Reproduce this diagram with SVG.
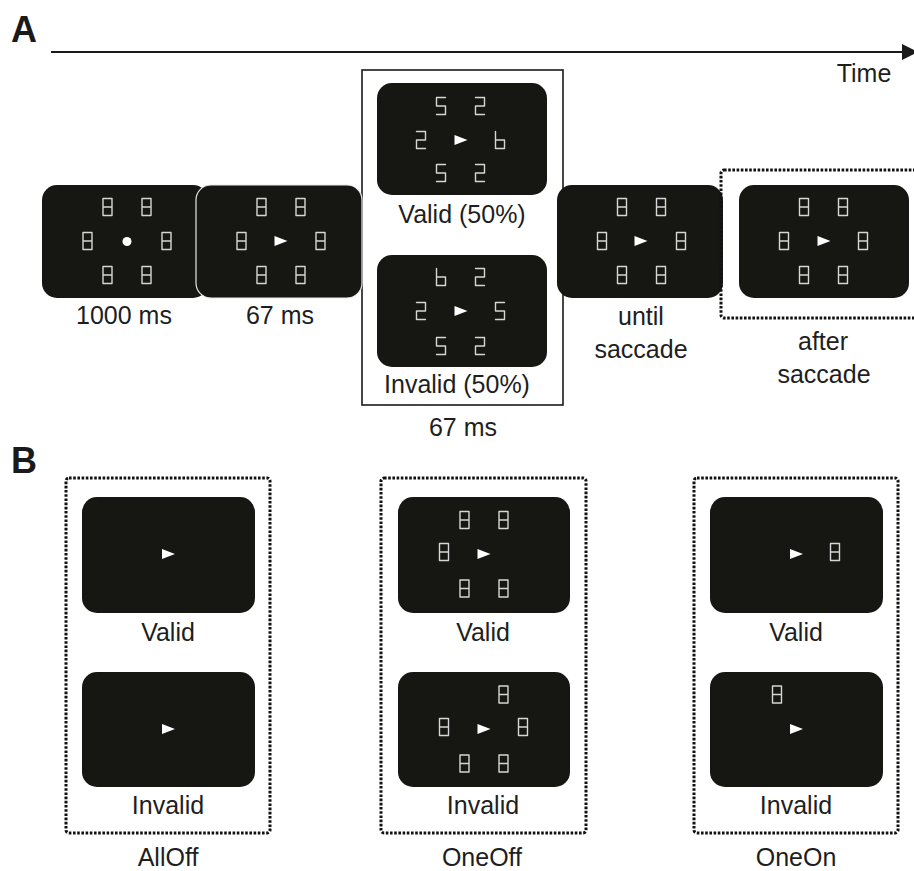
<svg xmlns="http://www.w3.org/2000/svg" xmlns:xlink="http://www.w3.org/1999/xlink" width="914" height="871" viewBox="0 0 914 871">
<style>
.scr{fill:#161712;}
.seg{fill:none;stroke:#d6d6d6;stroke-width:1.4;stroke-linejoin:round;stroke-linecap:round;}
.cue{fill:#ffffff;}
.lbl{font-family:"Liberation Sans",Arial,sans-serif;font-size:25px;fill:#1e1e1e;text-anchor:middle;}
.pl{font-family:"Liberation Sans",Arial,sans-serif;font-size:36px;font-weight:bold;fill:#1a1a1a;}
.dot{fill:none;stroke:#111111;stroke-width:3;stroke-dasharray:2.6 1.6;}
</style>
<defs>
<path id="d8" class="seg" d="M-4.5,-8.5 H4.5 V8.5 H-4.5 Z M-4.5,0 H4.5"/>
<path id="d5" class="seg" d="M4.5,-8.5 H-4.5 V0 H4.5 V8.5 H-4.5"/>
<path id="d2" class="seg" d="M-4.5,-8.5 H4.5 V0 H-4.5 V8.5 H4.5"/>
<path id="d6" class="seg" d="M-4.5,-8.5 V8.5 H4.5 V0 H-4.5"/>
<polygon id="cue" class="cue" points="-6.5,-5 6.5,0 -6.5,5"/>
<marker id="ah" markerWidth="8" markerHeight="8" refX="0" refY="4" orient="auto" markerUnits="strokeWidth">
<polygon points="0,0 8,4 0,8" fill="#1a1a1a"/>
</marker>
</defs>
<rect width="914" height="871" fill="#ffffff"/>

<text class="pl" x="11" y="42">A</text>
<text class="pl" x="11" y="473">B</text>

<g id="connectors">
<line x1="51" y1="52" x2="902" y2="52" stroke="#1a1a1a" stroke-width="2" marker-end="url(#ah)"/>
</g>
<text class="lbl" x="864" y="82">Time</text>

<!-- Panel A -->
<g id="cue-box">
<rect x="362" y="70" width="201" height="335" fill="none" stroke="#1a1a1a" stroke-width="1.6"/>
<text class="lbl" x="463" y="436">67 ms</text>
</g>

<g id="fixation">
<rect class="scr" x="42" y="185" width="166" height="113" rx="15"/>
<use xlink:href="#d8" x="107.5" y="207"/><use xlink:href="#d8" x="146.5" y="207"/>
<use xlink:href="#d8" x="87.5" y="241"/><use xlink:href="#d8" x="166.5" y="241"/>
<use xlink:href="#d8" x="107.5" y="275"/><use xlink:href="#d8" x="146.5" y="275"/>
<circle cx="127" cy="241.5" r="4.5" fill="#ffffff"/>
<text class="lbl" x="124" y="324">1000 ms</text>
</g>

<g id="cue-screen">
<rect class="scr" x="196" y="185" width="166" height="113" rx="15" stroke="#e8e8e8" stroke-width="1.2"/>
<use xlink:href="#d8" x="261.5" y="207"/><use xlink:href="#d8" x="300.5" y="207"/>
<use xlink:href="#d8" x="241.5" y="241"/><use xlink:href="#d8" x="320.5" y="241"/>
<use xlink:href="#d8" x="261.5" y="275"/><use xlink:href="#d8" x="300.5" y="275"/>
<use xlink:href="#cue" x="281" y="241"/>
<text class="lbl" x="280" y="324">67 ms</text>
</g>

<g id="valid-screen">
<rect class="scr" x="377" y="83" width="170" height="112" rx="15"/>
<use xlink:href="#d5" x="441" y="106"/><use xlink:href="#d2" x="480" y="106"/>
<use xlink:href="#d2" x="421" y="140"/><use xlink:href="#d6" x="500" y="140"/>
<use xlink:href="#d5" x="441" y="173"/><use xlink:href="#d2" x="480" y="173"/>
<use xlink:href="#cue" x="461" y="140"/>
<text class="lbl" x="462" y="223">Valid (50%)</text>
</g>

<g id="invalid-screen">
<rect class="scr" x="377" y="255" width="170" height="112" rx="15"/>
<use xlink:href="#d6" x="441" y="277"/><use xlink:href="#d2" x="480" y="277"/>
<use xlink:href="#d2" x="421" y="311"/><use xlink:href="#d5" x="500" y="311"/>
<use xlink:href="#d5" x="441" y="346"/><use xlink:href="#d2" x="480" y="346"/>
<use xlink:href="#cue" x="461" y="311"/>
<text class="lbl" x="457" y="393">Invalid (50%)</text>
</g>

<g id="until-saccade">
<rect class="scr" x="557" y="185" width="166" height="113" rx="15"/>
<use xlink:href="#d8" x="622" y="207"/><use xlink:href="#d8" x="661" y="207"/>
<use xlink:href="#d8" x="602" y="241"/><use xlink:href="#d8" x="681" y="241"/>
<use xlink:href="#d8" x="622" y="275"/><use xlink:href="#d8" x="661" y="275"/>
<use xlink:href="#cue" x="641" y="241"/>
<text class="lbl" x="641" y="325">until</text>
<text class="lbl" x="641" y="358">saccade</text>
</g>

<g id="after-saccade">
<rect class="dot" x="721" y="170" width="200" height="148" rx="3"/>
<rect class="scr" x="739" y="185" width="170" height="113" rx="15"/>
<use xlink:href="#d8" x="804" y="207"/><use xlink:href="#d8" x="843" y="207"/>
<use xlink:href="#d8" x="784" y="241"/><use xlink:href="#d8" x="863" y="241"/>
<use xlink:href="#d8" x="804" y="275"/><use xlink:href="#d8" x="843" y="275"/>
<use xlink:href="#cue" x="824" y="241"/>
<text class="lbl" x="823" y="350">after</text>
<text class="lbl" x="824" y="383">saccade</text>
</g>

<!-- Panel B -->
<g id="alloff">
<rect class="dot" x="66" y="478" width="204" height="355" rx="3"/>
<rect class="scr" x="82" y="497" width="173" height="116" rx="15"/>
<use xlink:href="#cue" x="168.5" y="554"/>
<text class="lbl" x="168" y="641">Valid</text>
<rect class="scr" x="82" y="672" width="173" height="115" rx="15"/>
<use xlink:href="#cue" x="168.5" y="729"/>
<text class="lbl" x="168" y="814">Invalid</text>
<text class="lbl" x="168" y="866">AllOff</text>
</g>

<g id="oneoff">
<rect class="dot" x="381" y="478" width="205" height="355" rx="3"/>
<rect class="scr" x="398" y="497" width="172" height="116" rx="15"/>
<use xlink:href="#d8" x="464.5" y="520"/><use xlink:href="#d8" x="503.5" y="520"/>
<use xlink:href="#d8" x="444" y="552"/>
<use xlink:href="#d8" x="464.5" y="588.5"/><use xlink:href="#d8" x="503.5" y="588.5"/>
<use xlink:href="#cue" x="484" y="554"/>
<text class="lbl" x="483" y="641">Valid</text>
<rect class="scr" x="398" y="672" width="172" height="115" rx="15"/>
<use xlink:href="#d8" x="503.5" y="694.5"/>
<use xlink:href="#d8" x="444" y="727"/><use xlink:href="#d8" x="523" y="727"/>
<use xlink:href="#d8" x="464.5" y="763.5"/><use xlink:href="#d8" x="503.5" y="763.5"/>
<use xlink:href="#cue" x="484" y="729"/>
<text class="lbl" x="483" y="814">Invalid</text>
<text class="lbl" x="482" y="866">OneOff</text>
</g>

<g id="oneon">
<rect class="dot" x="694" y="478" width="204" height="355" rx="3"/>
<rect class="scr" x="710" y="497" width="173" height="116" rx="15"/>
<use xlink:href="#d8" x="835" y="552"/>
<use xlink:href="#cue" x="796.5" y="554"/>
<text class="lbl" x="796" y="641">Valid</text>
<rect class="scr" x="710" y="672" width="173" height="115" rx="15"/>
<use xlink:href="#d8" x="777" y="694.5"/>
<use xlink:href="#cue" x="796.5" y="729"/>
<text class="lbl" x="796" y="814">Invalid</text>
<text class="lbl" x="796" y="866">OneOn</text>
</g>
</svg>
